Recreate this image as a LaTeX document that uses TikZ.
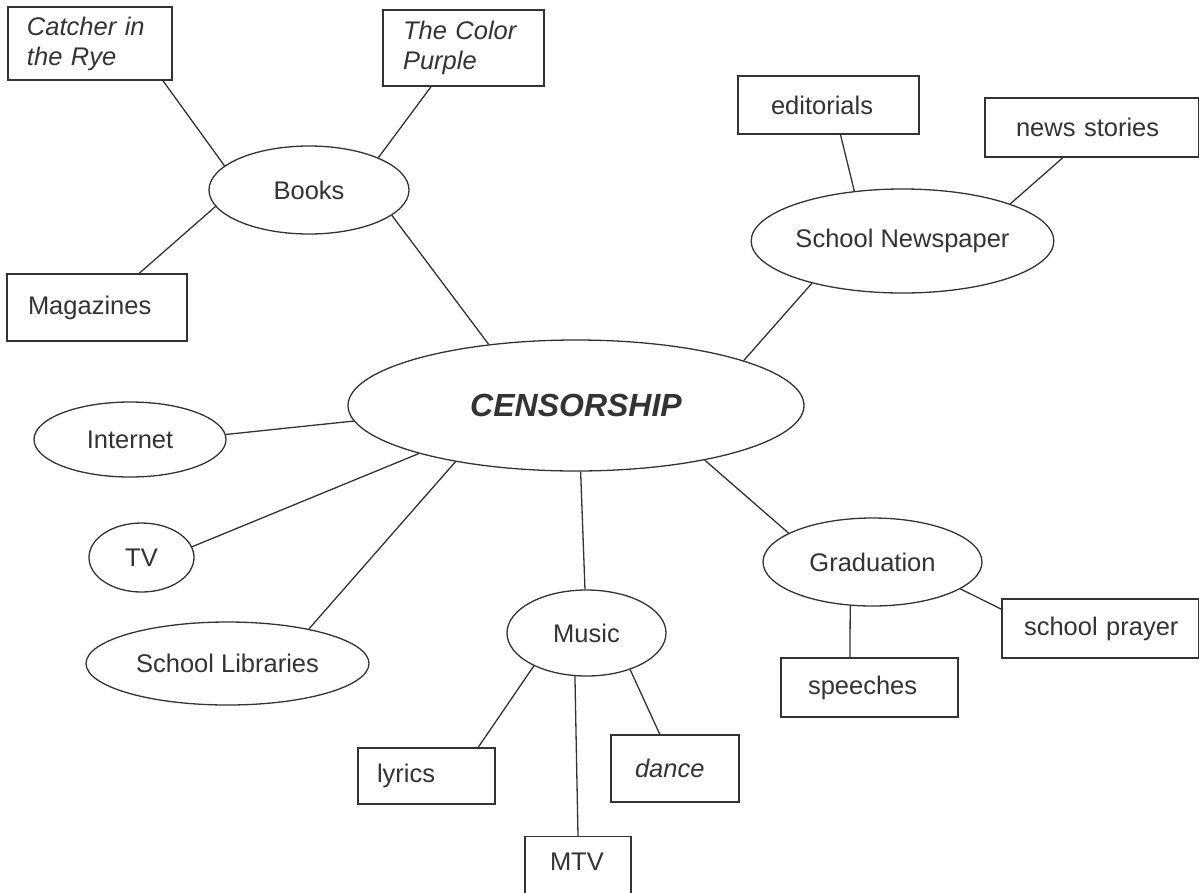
\documentclass[tikz,border=0pt]{standalone}
\usepackage{fontspec}
\setmainfont{Liberation Sans}
\usetikzlibrary{shapes.geometric}
\definecolor{ink}{HTML}{333333}
\tikzstyle{topicNode}=[draw=ink, ellipse, inner sep=0pt, line width=1.3pt, text=ink, font=\fontsize{25.5}{30}\selectfont]
\tikzstyle{itemBox}=[draw=ink, rectangle, align=left, inner ysep=0pt, line width=1.3pt, text=ink, font=\fontsize{25.5}{30}\selectfont]
\tikzstyle{titleBox}=[itemBox, font=\fontsize{25.5}{30}\selectfont\itshape]
\tikzstyle{branch}=[draw=ink, line width=1.3pt]

\begin{document}
\begin{tikzpicture}[x=1pt, y=-1pt]
	\useasboundingbox[fill=white] (0,0) rectangle (1199,892);

	\node[topicNode, minimum width=456, minimum height=131, font=\fontsize{32}{36}\selectfont\bfseries\itshape] (cen) at (576,405.5) {CENSORSHIP};

	\node[topicNode, minimum width=200, minimum height=88] (bk) at (309,190) {Books};
	\node[topicNode, minimum width=299, minimum height=104] (np) at (902.5,241) {School Newspaper};
	\node[topicNode, minimum width=192, minimum height=75] (net) at (130,439.5) {Internet};
	\node[topicNode, minimum width=105, minimum height=69] (tv) at (141.5,557.5) {TV};
	\node[topicNode, minimum width=283, minimum height=83] (lib) at (227.5,663.5) {School Libraries};
	\node[topicNode, minimum width=159, minimum height=86] (mus) at (586.5,633) {Music};
	\node[topicNode, minimum width=219, minimum height=88] (grd) at (872.5,562) {Graduation};

	\node[titleBox, text width=126, inner xsep=19, minimum height=73] (cat) at (90,43.5) {Catcher in\\the Rye};
	\node[titleBox, text width=121, inner xsep=20, minimum height=76] (pur) at (463.5,48) {The Color\\Purple};
	\node[itemBox, text width=138, inner xsep=21, minimum height=67] (mag) at (97,307.5) {Magazines};
	\node[itemBox, text width=115, inner xsep=33, minimum height=58] (edi) at (828.5,105) {editorials};
	\node[itemBox, text width=152, inner xsep=31, minimum height=59] (nws) at (1092,127.5) {news~stories};
	\node[itemBox, text width=153, inner xsep=22, minimum height=59] (pry) at (1100.5,628.5) {school~prayer};
	\node[itemBox, text width=123, inner xsep=27, minimum height=59] (spc) at (869.5,687.5) {speeches};
	\node[itemBox, text width=99, inner xsep=19, minimum height=56] (lyr) at (426.5,776) {lyrics};
	\node[titleBox, text width=80, inner xsep=24, minimum height=67] (dnc) at (675,768.5) {dance};
	\node[itemBox, anchor=north, text width=56, inner xsep=25, inner ysep=15, text height=18.4, text depth=40] (mtv) at (578,836) {MTV};

	\draw[branch] (cat.-27) -- (bk.164);
	\draw[branch] (pur.-130) -- (bk.25);
	\draw[branch] (mag.39) -- (bk.190);
	\draw[branch] (bk.-17) -- (cen.145);

	\draw[branch] (cen.15) -- (np.205);
	\draw[branch] (np.134) -- (edi.-68);
	\draw[branch] (np.19) -- (nws.-134);

	\draw[branch] (cen.184) -- (net.3);
	\draw[branch] (cen.197) -- (tv.12);
	\draw[branch] (cen.205) -- (lib.23);

	\draw[branch] (cen.-86) -- (mus.92);
	\draw[branch] (mus.212) -- (lyr.29);
	\draw[branch] (mus.255) -- (mtv.north);
	\draw[branch] (mus.-40) -- (dnc.114);

	\draw[branch] (cen.-23) -- (grd.161);
	\draw[branch] (grd.243) -- (spc.123);
	\draw[branch] (grd.-17) -- (pry.169);
\end{tikzpicture}
\end{document}
